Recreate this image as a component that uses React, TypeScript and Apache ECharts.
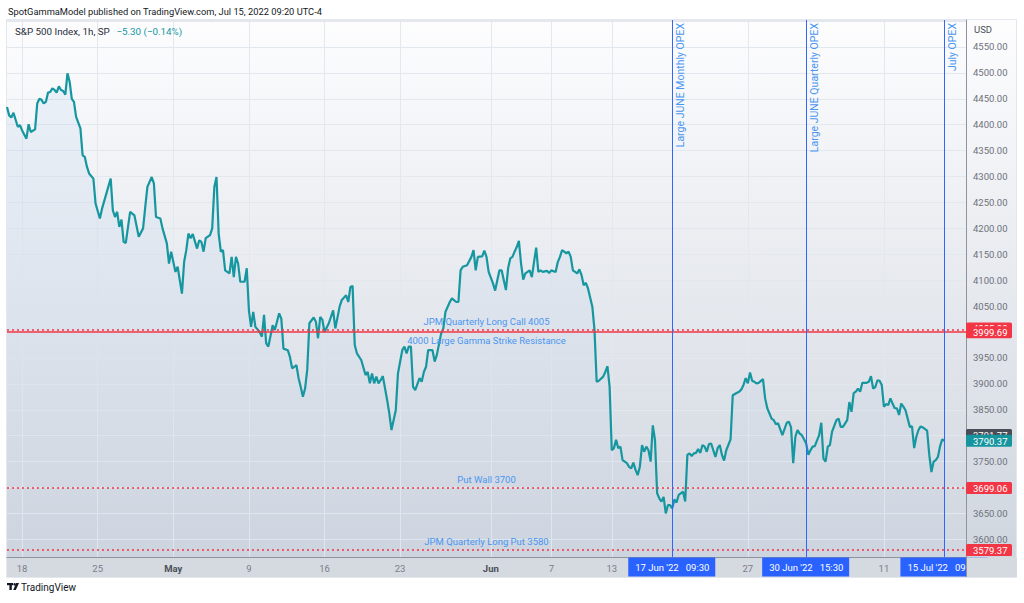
import React, { useEffect, useRef } from "react";
import * as echarts from "echarts";

// ---- Data ----
const tradingDays = [
  "04-14", "04-18", "04-19", "04-20", "04-21", "04-22", "04-25", "04-26", "04-27", "04-28", "04-29",
  "05-02", "05-03", "05-04", "05-05", "05-06", "05-09", "05-10", "05-11", "05-12", "05-13",
  "05-16", "05-17", "05-18", "05-19", "05-20", "05-23", "05-24", "05-25", "05-26", "05-27", "05-31",
  "06-01", "06-02", "06-03", "06-06", "06-07", "06-08", "06-09", "06-10", "06-13", "06-14", "06-15",
  "06-16", "06-17", "06-21", "06-22", "06-23", "06-24", "06-27", "06-28", "06-29", "06-30",
  "07-01", "07-05", "07-06", "07-07", "07-08", "07-11", "07-12", "07-13", "07-14", "07-15", "07-18",
];
const sessionHours = ["09:30", "10:30", "11:30", "12:30", "13:30", "14:30", "15:30"];
const lastSlot = "07-18 12:30";

// [hourly bar number since 04-14 09:30, close]
const hourlyCloses: [number, number][] = [
  [0, 4434], [1, 4418], [2, 4414], [3, 4423], [5, 4396], [6, 4399], [7, 4389], [9, 4373], [10, 4401], [11, 4386],
  [13, 4391], [14, 4441], [15, 4450], [16, 4448], [17, 4441], [18, 4444], [19, 4462], [20, 4463], [21, 4470], [22, 4467],
  [23, 4462], [24, 4474], [25, 4467], [26, 4465], [27, 4458], [28, 4499], [29, 4483], [30, 4450], [31, 4444], [32, 4415],
  [34, 4393], [35, 4341], [36, 4338], [37, 4319], [38, 4306], [40, 4296], [41, 4248], [43, 4219], [44, 4238], [46, 4267],
  [48, 4296], [49, 4235], [50, 4222], [51, 4232], [52, 4203], [53, 4217], [54, 4174], [55, 4172], [57, 4232], [59, 4225],
  [61, 4184], [63, 4200], [64, 4241], [65, 4280], [67, 4299], [68, 4287], [69, 4222], [71, 4219], [72, 4200], [74, 4171],
  [75, 4132], [76, 4155], [78, 4116], [79, 4126], [81, 4074], [82, 4135], [83, 4158], [84, 4190], [85, 4181], [86, 4189],
  [88, 4161], [89, 4177], [90, 4174], [91, 4155], [92, 4181], [94, 4187], [95, 4200], [96, 4280], [97, 4299], [98, 4190],
  [99, 4155], [100, 4158], [101, 4119], [103, 4113], [104, 4145], [105, 4106], [106, 4145], [107, 4132], [108, 4097], [110, 4097],
  [111, 4123], [112, 4042], [113, 4010], [114, 4039], [115, 4010], [117, 4000], [118, 3991], [119, 4033], [120, 3978], [121, 3972],
  [123, 4013], [124, 4004], [126, 4036], [127, 4026], [128, 3968], [130, 3965], [131, 3952], [132, 3930], [134, 3936], [135, 3911],
  [136, 3894], [137, 3875], [138, 3891], [139, 3927], [140, 4017], [142, 4028], [143, 4020], [144, 3988], [145, 4029], [146, 4024],
  [147, 4000], [149, 4017], [151, 4042], [152, 4007], [154, 4049], [155, 4062], [157, 4071], [158, 4058], [159, 4087], [160, 4089],
  [161, 3975], [162, 3959], [164, 3946], [166, 3917], [167, 3923], [168, 3901], [169, 3920], [170, 3901], [171, 3914], [172, 3901],
  [173, 3907], [174, 3915], [176, 3869], [177, 3843], [178, 3811], [180, 3849], [181, 3920], [183, 3965], [184, 3972], [185, 3959],
  [186, 3972], [187, 3972], [188, 3894], [189, 3888], [191, 3911], [192, 3904], [193, 3923], [194, 3933], [195, 3965], [197, 3965],
  [198, 3943], [199, 3956], [201, 3997], [202, 4007], [203, 4039], [205, 4058], [206, 4065], [208, 4058], [209, 4058], [210, 4119],
  [211, 4126], [213, 4129], [215, 4145], [216, 4158], [217, 4119], [218, 4145], [220, 4146], [221, 4157], [222, 4145], [223, 4116],
  [225, 4094], [226, 4080], [227, 4100], [228, 4119], [229, 4119], [231, 4081], [232, 4123], [233, 4142], [234, 4145], [235, 4155],
  [236, 4164], [237, 4176], [238, 4132], [239, 4101], [240, 4113], [242, 4119], [243, 4106], [244, 4135], [245, 4163], [246, 4116],
  [247, 4119], [248, 4116], [250, 4118], [251, 4114], [252, 4119], [254, 4116], [255, 4135], [256, 4145], [257, 4158], [259, 4152],
  [260, 4155], [261, 4145], [262, 4119], [264, 4113], [265, 4121], [266, 4110], [267, 4090], [268, 4095], [269, 4084], [271, 4049],
  [272, 4004], [273, 3904], [274, 3906], [276, 3914], [277, 3923], [278, 3934], [279, 3894], [280, 3772], [281, 3776], [282, 3792],
  [283, 3776], [284, 3779], [285, 3753], [287, 3747], [288, 3740], [289, 3737], [290, 3748], [291, 3734], [292, 3724], [293, 3740],
  [294, 3782], [295, 3769], [296, 3779], [297, 3772], [298, 3750], [299, 3820], [300, 3792], [301, 3689], [302, 3679], [303, 3673],
  [304, 3682], [305, 3650], [306, 3666], [307, 3666], [308, 3660], [309, 3677], [310, 3671], [311, 3686], [313, 3692], [314, 3673],
  [315, 3763], [316, 3766], [317, 3761], [318, 3766], [319, 3767], [320, 3774], [321, 3767], [322, 3782], [323, 3779], [324, 3769],
  [325, 3784], [326, 3785], [327, 3772], [328, 3759], [329, 3776], [330, 3782], [331, 3763], [332, 3752], [333, 3772], [335, 3793],
  [336, 3878], [338, 3883], [339, 3885], [340, 3889], [341, 3898], [342, 3911], [343, 3901], [344, 3922], [345, 3906], [346, 3904],
  [347, 3901], [348, 3902], [350, 3909], [351, 3872], [352, 3853], [354, 3833], [355, 3830], [356, 3822], [357, 3824], [359, 3801],
  [361, 3825], [362, 3827], [363, 3816], [364, 3747], [365, 3798], [366, 3811], [367, 3804], [368, 3801], [369, 3793], [370, 3785],
  [371, 3763], [372, 3772], [373, 3779], [374, 3780], [376, 3801], [377, 3825], [378, 3756], [379, 3750], [380, 3779], [381, 3782],
  [382, 3808], [384, 3830], [385, 3833], [386, 3817], [387, 3817], [389, 3830], [390, 3865], [391, 3846], [392, 3882], [393, 3885],
  [394, 3891], [395, 3885], [396, 3902], [398, 3902], [399, 3904], [400, 3915], [401, 3891], [402, 3894], [403, 3907], [404, 3906],
  [405, 3898], [406, 3856], [407, 3861], [408, 3859], [409, 3872], [410, 3862], [411, 3853], [412, 3853], [413, 3840], [414, 3862],
  [415, 3856], [416, 3849], [418, 3817], [419, 3818], [420, 3776], [421, 3798], [422, 3811], [423, 3818], [424, 3816], [426, 3810],
  [427, 3763], [428, 3730], [429, 3750], [430, 3753], [431, 3759], [432, 3780], [433, 3793], [434, 3790.37],
];

const xTickTimes = ["04-18 09:30", "04-25 09:30", "05-02 09:30", "05-09 09:30", "05-16 09:30", "05-23 09:30", "06-01 09:30", "06-07 09:30", "06-13 09:30", "06-27 09:30", "07-11 09:30"];
const xTickLabels = ["18", "25", "May", "9", "16", "23", "Jun", "7", "13", "27", "11"];
const monthTicks = ["May", "Jun"];

const levelValues = [4005, 3999.69, 3700, 3580];
const levelLabels = ["JPM Quarterly Long Call 4005", "4000 Large Gamma Strike Resistance", "Put Wall 3700", "JPM Quarterly Long Put 3580"];
const levelSolid = [false, true, false, false];
const levelLabelBelow = [false, true, false, false];

const opexTimes = ["06-17 09:30", "06-30 15:30", "07-15 09:30"];
const opexLabels = ["Large JUNE Monthly OPEX", "Large JUNE Quarterly OPEX", "July OPEX"];
const opexDateTexts = ["17 Jun '22   09:30", "30 Jun '22   15:30", "15 Jul '22   09:30"];

// right-axis price tags (drawn in this order, later on top)
const tagValues = [4005.0, 3999.69, 3699.06, 3579.37, 3791.77, 3790.37];
const tagColors = ["#f23645", "#f23645", "#f23645", "#f23645", "#4a4d57", "#17959f"];
const tagNudge = [-1, 0, 0, 0, -5, 0];

const headerText = "SpotGammaModel published on TradingView.com, Jul 15, 2022 09:20 UTC-4";
const symbolText = "S&P 500 Index, 1h, SP";
const changeText = "\u22125.30 (\u22120.14%)";

const LINE = "#16969f";
const RED = "#f23645";
const BLUE = "#2f66ff";
const LABEL_BLUE = "#4a96f0";
const FONT = "Roboto, 'Liberation Sans', sans-serif";

export default function App() {
  const ref = useRef<HTMLDivElement>(null);
  useEffect(() => {
    const el = ref.current!;
    const chart = echarts.init(el, null, { renderer: "svg" });
    const all: string[] = [];
    tradingDays.forEach((d) => sessionHours.forEach((h) => all.push(`${d} ${h}`)));
    const cats = all.slice(0, all.indexOf(lastSlot) + 1);
    const tickMap = new Map(xTickTimes.map((t, i) => [t, xTickLabels[i]]));
    const isTick = (_i: number, v: string) => tickMap.has(v);

    const gridL = 7, gridR = 58, gridT = 20, gridB = 46;
    const W = 1024, H = 603;
    const plotRight = W - gridR, plotBottom = H - gridB;

    chart.setOption({
      animation: false,
      grid: { left: gridL, right: gridR, top: gridT, bottom: gridB, containLabel: false },
      xAxis: {
        type: "category",
        data: cats,
        boundaryGap: false,
        axisLine: { show: true, lineStyle: { color: "#8f939d", width: 1 } },
        axisTick: { show: false },
        axisLabel: {
          interval: isTick,
          margin: 6,
          fontFamily: FONT,
          fontSize: 9.5,
          color: "#7b7e88",
          formatter: (v: string) => {
            const t = tickMap.get(v) || "";
            return monthTicks.includes(t) ? `{b|${t}}` : t;
          },
          rich: { b: { fontFamily: FONT, fontSize: 9.5, fontWeight: "bold", color: "#4c4f59" } },
        },
        splitLine: { show: true, interval: isTick, lineStyle: { color: "#e3e8ef", width: 1 } },
      },
      yAxis: {
        type: "value",
        position: "right",
        min: 3566,
        max: 4602,
        splitNumber: 20,
        minInterval: 50,
        maxInterval: 50,
        axisLine: { show: true, lineStyle: { color: "#8f939d", width: 1 } },
        axisTick: { show: false },
        axisLabel: {
          showMinLabel: false,
          showMaxLabel: false,
          margin: 7,
          fontFamily: FONT,
          fontSize: 9.5,
          color: "#6e717b",
          formatter: (v: number) => (v > 4575 || v < 3590 ? "" : v.toFixed(2)),
        },
        splitLine: { show: true, lineStyle: { color: "#e3e8ef", width: 1 } },
      },
      series: [
        {
          type: "line",
          data: hourlyCloses,
          symbol: "none",
          smooth: false,
          lineStyle: { color: LINE, width: 2.2 },
          areaStyle: {
            color: new echarts.graphic.LinearGradient(0, 0, 0, 1, [
              { offset: 0, color: "rgba(60,130,220,0.10)" },
              { offset: 1, color: "rgba(60,130,220,0.03)" },
            ]),
          },
          z: 3,
          markLine: {
            silent: true,
            symbol: ["none", "none"],
            animation: false,
            data: [
              ...levelValues.map((v, i) => ({
                yAxis: v,
                lineStyle: levelSolid[i]
                  ? { color: RED, width: 1.5, type: "solid" }
                  : { color: RED, width: 1.5, type: [2, 3] },
                label: {
                  show: true,
                  formatter: levelLabels[i],
                  position: levelLabelBelow[i] ? "insideMiddleBottom" : "insideMiddleTop",
                  distance: 3,
                  fontFamily: FONT,
                  fontSize: 9.5,
                  color: LABEL_BLUE,
                },
              })),
              ...opexTimes.map((t) => ({
                xAxis: t,
                lineStyle: { color: BLUE, width: 1, type: "solid" },
                label: { show: false },
              })),
            ],
          },
        },
      ],
    });

    const yPx = (v: number) => chart.convertToPixel({ yAxisIndex: 0 }, v) as number;
    const xPx = (c: string) => chart.convertToPixel({ xAxisIndex: 0 }, c) as number;

    const g: any[] = [];
    g.push({
      type: "rect", z: -10, silent: true,
      shape: { x: gridL, y: gridT, width: 1017 - gridL, height: plotBottom - gridT },
      style: {
        fill: new echarts.graphic.LinearGradient(0, 0, 0, 1, [
          { offset: 0, color: "#fdfdfe" },
          { offset: 1, color: "#d0d6df" },
        ]),
      },
    });
    g.push({
      type: "rect", z: -9, silent: true,
      shape: { x: gridL, y: plotBottom, width: 1017 - gridL, height: 20 },
      style: { fill: "#d5d9e0" },
    });
    g.push({
      type: "rect", z: -8, silent: true,
      shape: { x: gridL - 0.5, y: gridT - 0.5, width: 1017 - gridL, height: plotBottom + 20 - gridT + 1 },
      style: { fill: "none", stroke: "#e4e7ed", lineWidth: 1 },
    });
    g.push({ type: "text", x: 8, y: 11, style: { text: headerText, fontFamily: FONT, fontSize: 9.3, fill: "#131722", verticalAlign: "middle" } });
    g.push({
      type: "text", x: 15, y: 31,
      style: {
        text: `{s|${symbolText}}  {c|${changeText}}`,
        verticalAlign: "middle",
        rich: {
          s: { fontFamily: FONT, fontSize: 9.8, fill: "#2a2e39" },
          c: { fontFamily: FONT, fontSize: 9.8, fill: LINE },
        },
      },
    });
    g.push({ type: "text", x: 974, y: 29, style: { text: "USD", fontFamily: FONT, fontSize: 9.5, fill: "#4c4f59", verticalAlign: "middle" } });

    opexTimes.forEach((t, i) => {
      const x = xPx(t);
      g.push({
        type: "text", z: 50, x: x + 2.5, y: gridT + 3, rotation: Math.PI / 2,
        style: { text: opexLabels[i], fontFamily: FONT, fontSize: 10.5, fill: LABEL_BLUE, align: "right", verticalAlign: "top" },
      });
      g.push({
        type: "rect", z: 100, shape: { x: x - 44, y: plotBottom + 0.5, width: 87, height: 19 },
        style: { fill: "#2962ff" },
      });
      g.push({
        type: "text", z: 101, x: x - 37, y: plotBottom + 10,
        style: { text: opexDateTexts[i], fontFamily: FONT, fontSize: 9.5, fill: "#ffffff", verticalAlign: "middle" },
      });
    });
    g.push({ type: "rect", z: 110, shape: { x: plotRight, y: plotBottom + 0.5, width: 1017 - plotRight, height: 19.5 }, style: { fill: "#d5d9e0" } });
    g.push({ type: "line", z: 111, shape: { x1: plotRight + 0.5, y1: plotBottom, x2: plotRight + 0.5, y2: plotBottom + 20 }, style: { stroke: "#8f939d", lineWidth: 1 } });

    tagValues.forEach((v, i) => {
      const y = yPx(v) + tagNudge[i];
      g.push({ type: "rect", z: 120 + i * 2, shape: { x: plotRight, y: y - 6, width: 46, height: 12, r: 1.5 }, style: { fill: tagColors[i] } });
      g.push({
        type: "text", z: 121 + i * 2, x: plotRight + 7, y: y + 0.5,
        style: { text: v.toFixed(2), fontFamily: FONT, fontSize: 9.5, fill: "#ffffff", verticalAlign: "middle" },
      });
    });

    g.push({
      type: "group", x: 7, y: 583,
      children: [
        { type: "rect", shape: { x: 0, y: 0, width: 6, height: 2.2 }, style: { fill: "#131722" } },
        { type: "rect", shape: { x: 2.4, y: 0, width: 2.4, height: 7 }, style: { fill: "#131722" } },
        { type: "circle", shape: { cx: 7.6, cy: 1.3, r: 1.3 }, style: { fill: "#131722" } },
        { type: "polygon", shape: { points: [[9.2, 0], [12, 0], [8.8, 7], [6.2, 7]] }, style: { fill: "#131722" } },
      ],
    });
    g.push({ type: "text", x: 21, y: 587, style: { text: "TradingView", fontFamily: FONT, fontSize: 10, fill: "#131722", verticalAlign: "middle" } });

    chart.setOption({ graphic: g });
    return () => chart.dispose();
  }, []);
  return <div ref={ref} style={{ position: "absolute", left: 0, top: 0, width: 1024, height: 603, background: "#ffffff" }} />;
}
